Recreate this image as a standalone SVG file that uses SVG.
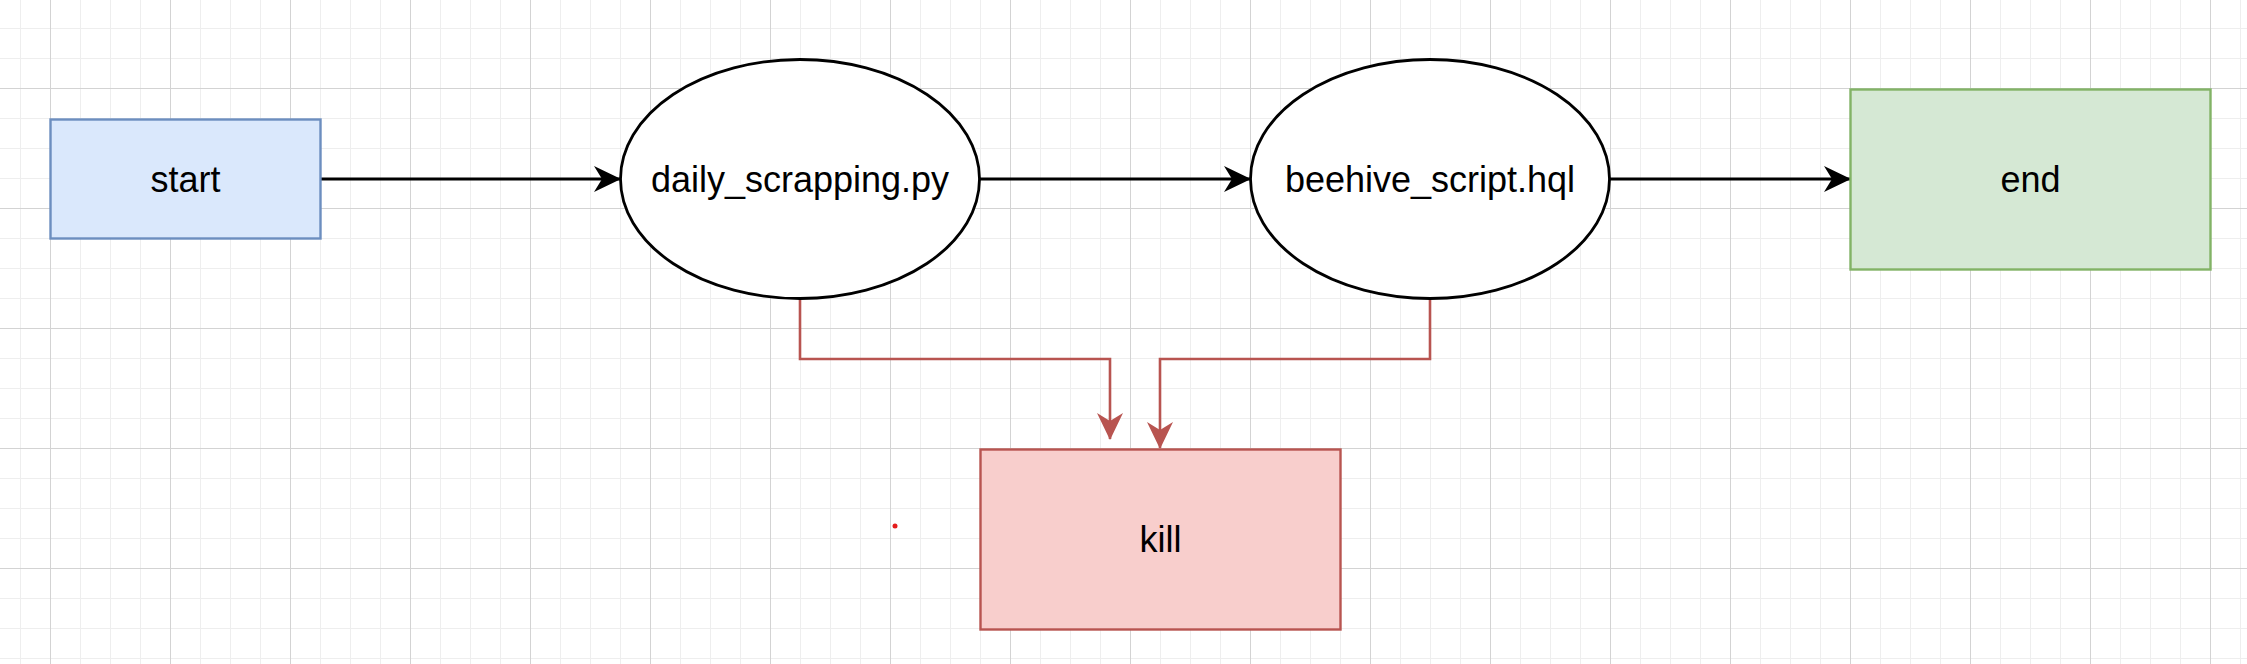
<svg xmlns="http://www.w3.org/2000/svg" width="2247" height="664" viewBox="0 0 2247 664">
  <defs>
    <pattern id="minor" patternUnits="userSpaceOnUse" x="20" y="28" width="30" height="30">
      <rect x="0" y="0" width="30" height="30" fill="none"/>
      <rect x="-0.5" y="0" width="1.5" height="30" fill="#eeeeee"/>
      <rect x="0" y="-0.5" width="30" height="1.5" fill="#eeeeee"/>
    </pattern>
    <pattern id="major" patternUnits="userSpaceOnUse" x="50" y="88" width="120" height="120">
      <rect x="-0.5" y="0" width="1.5" height="120" fill="#d3d3d3"/>
      <rect x="0" y="-0.5" width="120" height="1.5" fill="#d3d3d3"/>
    </pattern>
    <marker id="arrowBlack" viewBox="0 0 27 26" refX="26" refY="13" markerWidth="27" markerHeight="26" markerUnits="userSpaceOnUse" orient="auto">
      <path d="M0,0 L27,13 L0,26 L8,13 Z" fill="#000000"/>
    </marker>
    <marker id="arrowRed" viewBox="0 0 27 26" refX="26" refY="13" markerWidth="27" markerHeight="26" markerUnits="userSpaceOnUse" orient="auto">
      <path d="M0,0 L27,13 L0,26 L8,13 Z" fill="#b85450"/>
    </marker>
  </defs>
  <style>
    .label { font-family: "Liberation Sans", Arial, sans-serif; font-size: 36px; fill: #000000; text-anchor: middle; }
    .black { stroke: #000000; stroke-width: 2.8; fill: none; }
    .red { stroke: #b85450; stroke-width: 2.6; fill: none; }
  </style>
  <rect x="0" y="0" width="2247" height="664" fill="#ffffff"/>
  <rect x="0" y="0" width="2247" height="664" fill="url(#minor)"/>
  <rect x="0" y="0" width="2247" height="664" fill="url(#major)"/>

  <g id="connectors">
    <path class="black" d="M321,179 L620,179" marker-end="url(#arrowBlack)"/>
    <path class="black" d="M980,179 L1250,179" marker-end="url(#arrowBlack)"/>
    <path class="black" d="M1610,179 L1850,179" marker-end="url(#arrowBlack)"/>
    <path class="red" d="M800,298.5 L800,359 L1110,359 L1110,439" marker-end="url(#arrowRed)"/>
    <path class="red" d="M1430,298.5 L1430,359 L1160,359 L1160,448" marker-end="url(#arrowRed)"/>
  </g>

  <g id="node-start">
    <rect x="50.5" y="119.5" width="270" height="119" fill="#dae8fc" stroke="#6c8ebf" stroke-width="2.4"/>
    <text class="label" x="185.5" y="192">start</text>
  </g>
  <g id="node-daily">
    <ellipse cx="800" cy="179" rx="179.5" ry="119.5" fill="#ffffff" stroke="#000000" stroke-width="2.8"/>
    <text class="label" x="800" y="192">daily_scrapping.py</text>
  </g>
  <g id="node-beehive">
    <ellipse cx="1430" cy="179" rx="179.5" ry="119.5" fill="#ffffff" stroke="#000000" stroke-width="2.8"/>
    <text class="label" x="1430" y="192">beehive_script.hql</text>
  </g>
  <g id="node-end">
    <rect x="1850.5" y="89.5" width="360" height="180" fill="#d5e8d4" stroke="#82b366" stroke-width="2.4"/>
    <text class="label" x="2030.5" y="192">end</text>
  </g>
  <g id="node-kill">
    <rect x="980.5" y="449.5" width="360" height="180" fill="#f8cecc" stroke="#b85450" stroke-width="2.4"/>
    <text class="label" x="1160.5" y="552">kill</text>
  </g>
  <circle cx="895" cy="526" r="2.5" fill="#e51c1c"/>
</svg>
